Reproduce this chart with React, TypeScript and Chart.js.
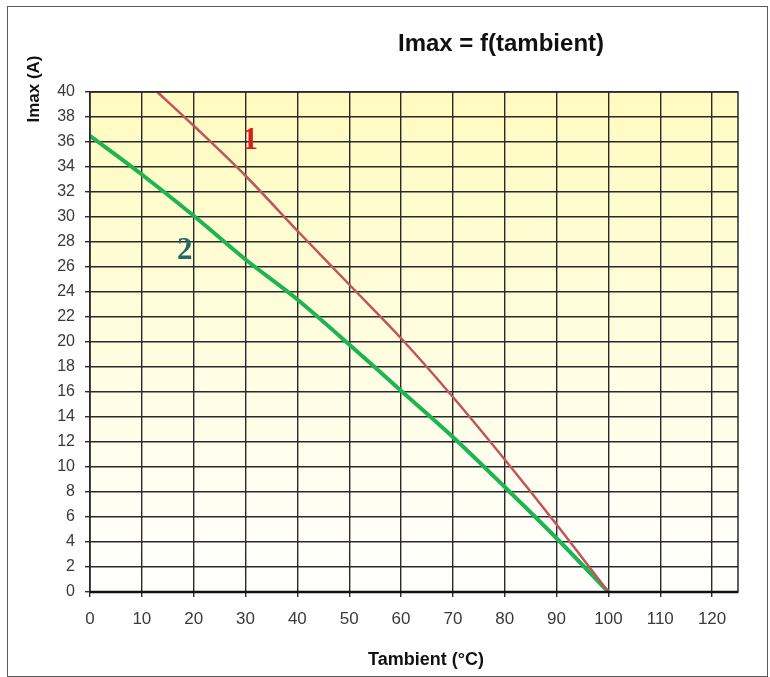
import React, { useEffect, useRef } from "react";
import { Chart, registerables } from "chart.js";

Chart.register(...registerables);

const curve1X = [13, 20, 30, 40, 50, 60, 70, 80, 90, 100];
const curve1Y = [40, 37.3, 33.3, 28.9, 24.6, 20.3, 15.6, 10.6, 5.4, 0];
const curve2X = [0, 10, 20, 30, 40, 50, 60, 70, 80, 90, 100];
const curve2Y = [36.5, 33.4, 30.1, 26.6, 23.4, 19.8, 16.1, 12.4, 8.4, 4.3, 0];
const xTicks = [0, 10, 20, 30, 40, 50, 60, 70, 80, 90, 100, 110, 120];
const yTicks = [0, 2, 4, 6, 8, 10, 12, 14, 16, 18, 20, 22, 24, 26, 28, 30, 32, 34, 36, 38, 40];
const curveLabels = ["1", "2"];
const curveLabelX = [30.9, 18.3];
const curveLabelY = [36.1, 27.3];
const curveLabelColors = ["#e01a1a", "#1f6b68"];
const titleText = "Imax = f(tambient)";
const yTitle = "Imax (A)";
const xTitle = "Tambient (°C)";

const W = 770;
const H = 677;

export default function App() {
  const ref = useRef<HTMLCanvasElement | null>(null);

  useEffect(() => {
    document.body.style.margin = "0";
    const canvas = ref.current;
    if (!canvas) return;

    const decor = {
      id: "decor",
      beforeDraw(chart: any) {
        const { ctx, chartArea } = chart;
        ctx.save();
        ctx.fillStyle = "#ffffff";
        ctx.fillRect(0, 0, chart.width, chart.height);
        const g = ctx.createLinearGradient(0, chartArea.top, 0, chartArea.bottom);
        g.addColorStop(0, "#fffbbf");
        g.addColorStop(0.55, "#fffde2");
        g.addColorStop(1, "#ffffff");
        ctx.fillStyle = g;
        ctx.fillRect(chartArea.left, chartArea.top, chartArea.right - chartArea.left, chartArea.bottom - chartArea.top);
        ctx.restore();
      },
      afterDraw(chart: any) {
        const { ctx, chartArea, scales } = chart;
        ctx.save();
        ctx.strokeStyle = "#2a2a2a";
        ctx.lineWidth = 1.5;
        ctx.strokeRect(chartArea.left, chartArea.top, chartArea.right - chartArea.left, chartArea.bottom - chartArea.top);
        ctx.lineWidth = 2.5;
        ctx.strokeStyle = "#111";
        ctx.beginPath();
        ctx.moveTo(chartArea.left, chartArea.bottom);
        ctx.lineTo(chartArea.right, chartArea.bottom);
        ctx.stroke();
        ctx.lineWidth = 1;
        ctx.strokeStyle = "#5a5a5a";
        ctx.strokeRect(7.5, 6.5, 760, 670);
        ctx.fillStyle = "#111";
        ctx.textAlign = "center";
        ctx.textBaseline = "middle";
        ctx.font = "bold 24px 'Liberation Sans', Arial, sans-serif";
        ctx.fillText(titleText, 501, 44);
        ctx.font = "bold 18px 'Liberation Sans', Arial, sans-serif";
        ctx.fillText(xTitle, 426, 660);
        ctx.save();
        ctx.translate(34, 89);
        ctx.rotate(-Math.PI / 2);
        ctx.font = "bold 17px 'Liberation Sans', Arial, sans-serif";
        ctx.fillText(yTitle, 0, 0);
        ctx.restore();
        ctx.font = "bold 31px 'Liberation Serif', 'Times New Roman', serif";
        curveLabels.forEach((t, i) => {
          ctx.fillStyle = curveLabelColors[i];
          ctx.fillText(t, scales.x.getPixelForValue(curveLabelX[i]), scales.y.getPixelForValue(curveLabelY[i]));
        });
        ctx.restore();
      },
    };

    const chart = new Chart(canvas, {
      type: "line",
      data: {
        datasets: [
          {
            label: "1",
            data: curve1X.map((x, i) => ({ x, y: curve1Y[i] })),
            borderColor: "#c0555a",
            borderWidth: 2.5,
            pointRadius: 0,
            tension: 0.3,
            fill: false,
          },
          {
            label: "2",
            data: curve2X.map((x, i) => ({ x, y: curve2Y[i] })),
            borderColor: "#1db552",
            borderWidth: 4,
            pointRadius: 0,
            tension: 0.3,
            fill: false,
          },
        ],
      },
      options: {
        animation: false,
        responsive: false,
        devicePixelRatio: 1,
        layout: { padding: { left: 0, right: 32, top: 92, bottom: 0 } },
        plugins: { legend: { display: false }, title: { display: false }, tooltip: { enabled: false } },
        scales: {
          x: {
            type: "linear",
            min: 0,
            max: 125,
            afterBuildTicks: (s: any) => {
              s.ticks = xTicks.map((v) => ({ value: v }));
            },
            afterFit: (s: any) => {
              s.height = 85;
            },
            grid: { color: "#2a2a2a", lineWidth: 1.4, tickLength: 5, drawTicks: true },
            border: { display: false },
            ticks: {
              padding: 12,
              color: "#3a3a3a",
              font: { family: "'Liberation Sans', Arial, sans-serif", size: 17 },
              maxRotation: 0,
              autoSkip: false,
            },
          },
          y: {
            type: "linear",
            min: 0,
            max: 40,
            afterBuildTicks: (s: any) => {
              s.ticks = yTicks.map((v) => ({ value: v }));
            },
            afterFit: (s: any) => {
              s.width = 90;
            },
            grid: { color: "#2a2a2a", lineWidth: 1.4, tickLength: 5, drawTicks: true },
            border: { display: false },
            ticks: {
              padding: 10,
              color: "#3a3a3a",
              font: { family: "'Liberation Sans', Arial, sans-serif", size: 16 },
              autoSkip: false,
            },
          },
        },
      },
      plugins: [decor],
    });

    return () => chart.destroy();
  }, []);

  return (
    <div style={{ position: "absolute", left: 0, top: 0, width: W, height: H }}>
      <canvas ref={ref} width={W} height={H} style={{ width: W, height: H, display: "block" }} />
    </div>
  );
}
